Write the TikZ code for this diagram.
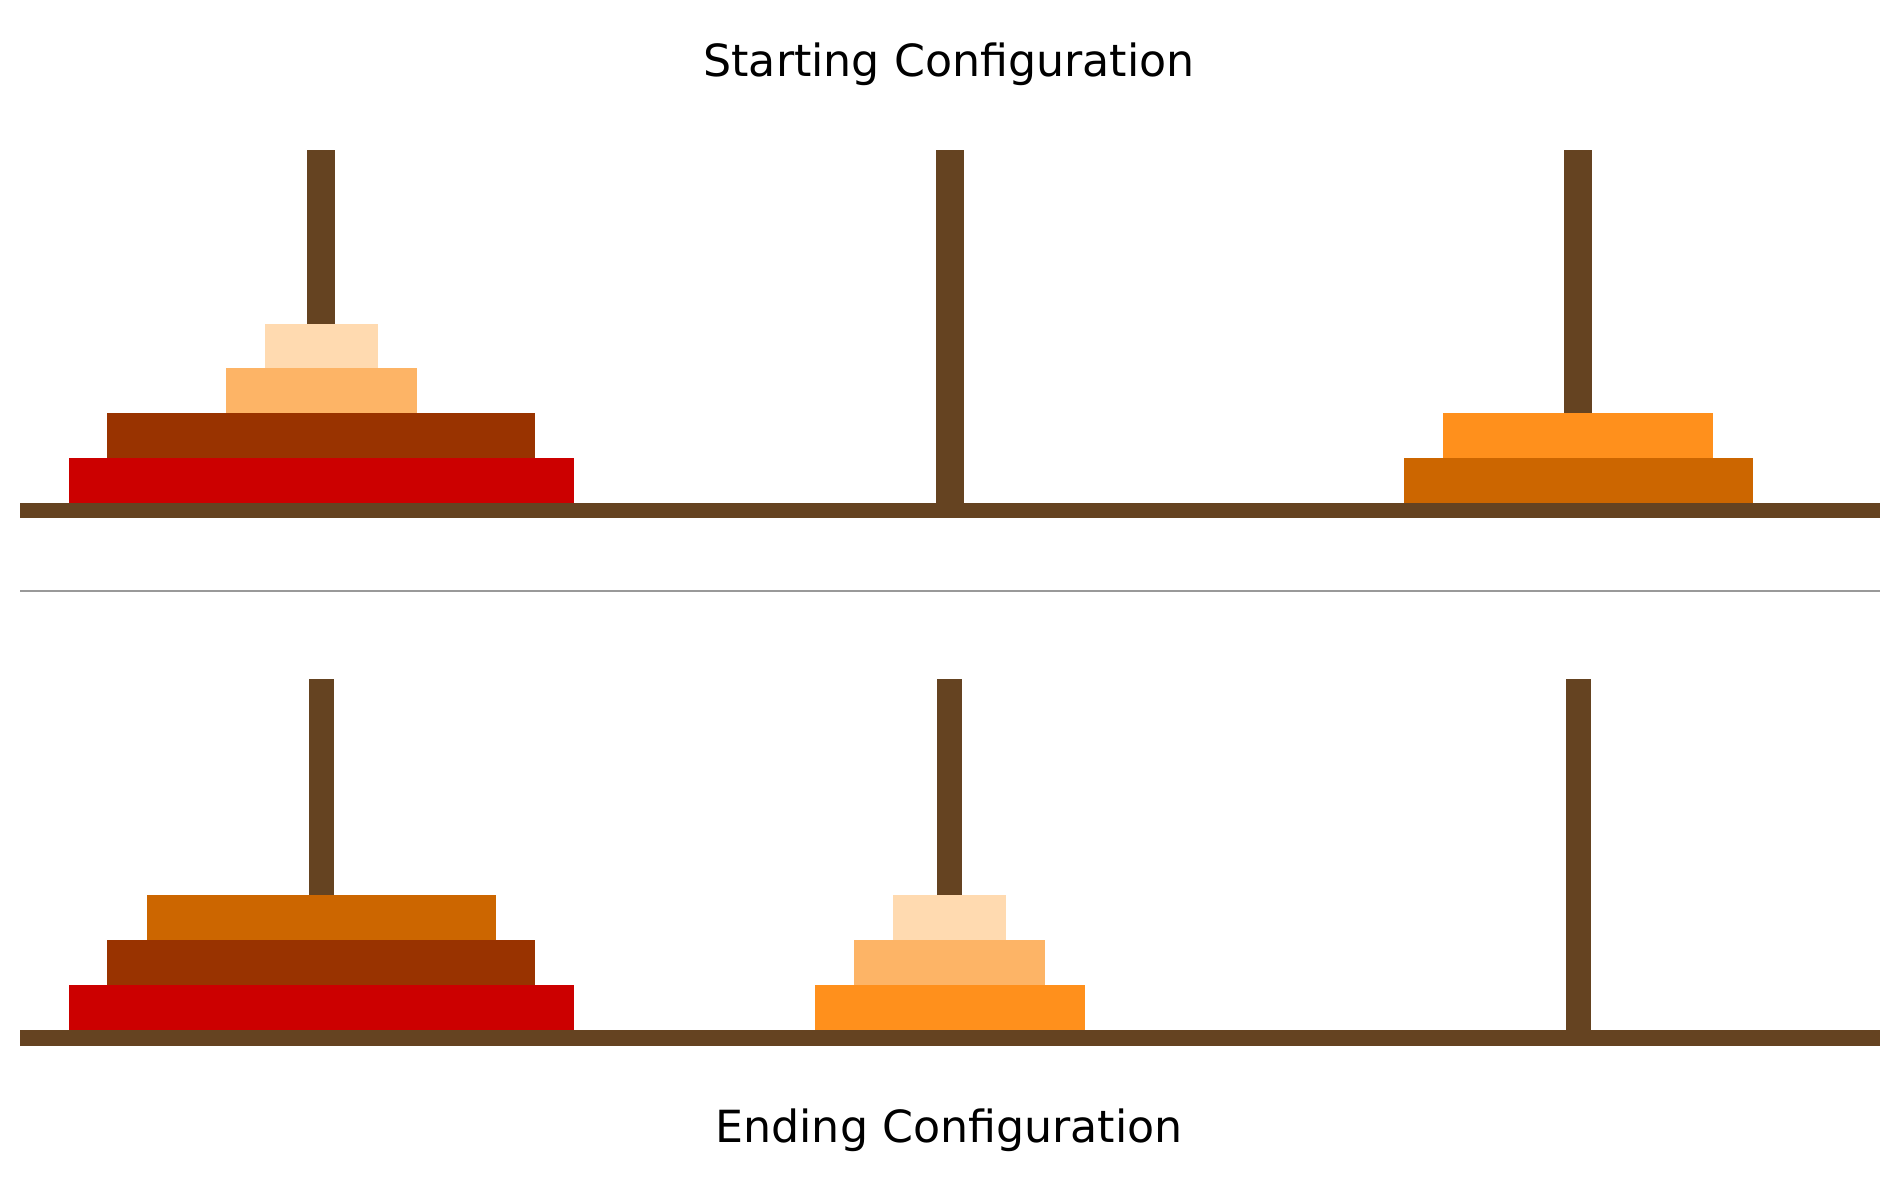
\documentclass[tikz,border=0pt]{standalone}
\usepackage{fontspec}
\setmainfont{DejaVu Sans}
\definecolor{wood}{HTML}{654321}
\definecolor{diskred}{HTML}{CC0000}
\definecolor{diskbrown}{HTML}{993300}
\definecolor{diskdark}{HTML}{CC6600}
\definecolor{diskorange}{HTML}{FF901C}
\definecolor{disklight}{HTML}{FDB466}
\definecolor{diskpeach}{HTML}{FFDAB0}
\tikzset{title/.style={anchor=base,inner sep=0pt,font=\fontsize{12.6}{15}\selectfont}}
\begin{document}
\begin{tikzpicture}[x=0.01cm,y=-0.01cm]
      \useasboundingbox (0,0) rectangle (1900,1183);
      \node[title] (start) at (949,77) {Starting Configuration};
      \foreach \px in {321,949.5,1578} \fill[wood] (\px-14,150) rectangle (\px+14,503);
      \fill[wood] (20,503) rectangle (1880,518);
      \fill[diskred] (68.5,458) rectangle (573.5,503);
      \fill[diskbrown] (107,413) rectangle (535,458);
      \fill[disklight] (225.5,368) rectangle (416.5,413);
      \fill[diskpeach] (264.5,324) rectangle (377.5,368);
      \fill[diskdark] (1403.5,458) rectangle (1752.5,503);
      \fill[diskorange] (1443,413) rectangle (1713,458);
      \draw[black!40,line width=0.6pt] (20,591) -- (1880,591);
      \foreach \px in {321,949.5,1578} \fill[wood] (\px-12.5,679) rectangle (\px+12.5,1030);
      \fill[wood] (20,1030) rectangle (1880,1046);
      \fill[diskred] (68.5,985) rectangle (573.5,1030);
      \fill[diskbrown] (107,940) rectangle (535,985);
      \fill[diskdark] (146.5,895) rectangle (495.5,940);
      \fill[diskorange] (814.5,985) rectangle (1084.5,1030);
      \fill[disklight] (854,940) rectangle (1045,985);
      \fill[diskpeach] (893,895) rectangle (1006,940);
      \node[title] (finish) at (949,1142) {Ending Configuration};
\end{tikzpicture}
\end{document}
